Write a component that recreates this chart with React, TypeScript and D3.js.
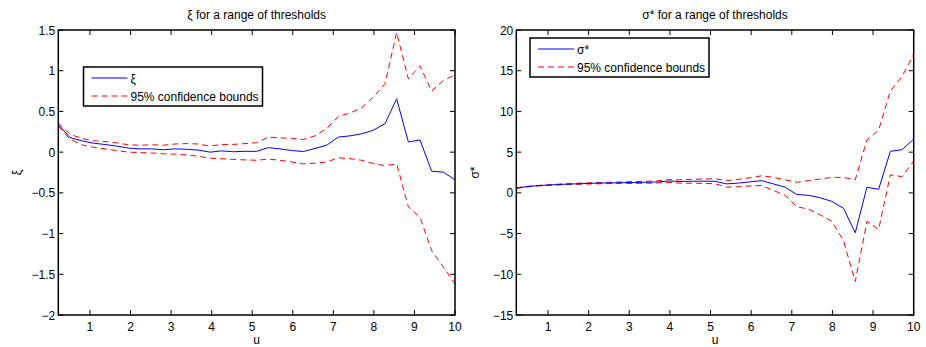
import React from "react";
import * as d3 from "d3";

const U: number[] = d3.range(35).map((i) => 0.22 + (i * (10 - 0.22)) / 34);

const xiEst = [0.34, 0.18, 0.14, 0.11, 0.094, 0.074, 0.05, 0.04, 0.04, 0.03, 0.04, 0.035, 0.025, 0.0, 0.015, 0.005, 0.01, 0.01, 0.055, 0.04, 0.02, 0.008, 0.045, 0.085, 0.185, 0.2, 0.225, 0.27, 0.35, 0.655, 0.125, 0.15, -0.235, -0.245, -0.34];
const xiUpper = [0.36, 0.22, 0.17, 0.14, 0.13, 0.115, 0.09, 0.085, 0.09, 0.085, 0.1, 0.105, 0.1, 0.075, 0.095, 0.095, 0.105, 0.115, 0.185, 0.175, 0.17, 0.155, 0.2, 0.29, 0.44, 0.48, 0.545, 0.675, 0.84, 1.47, 0.9, 1.06, 0.75, 0.88, 0.95];
const xiLower = [0.32, 0.16, 0.09, 0.06, 0.04, 0.02, 0.0, -0.005, -0.01, -0.02, -0.025, -0.035, -0.05, -0.075, -0.08, -0.09, -0.095, -0.1, -0.085, -0.1, -0.12, -0.145, -0.135, -0.12, -0.07, -0.08, -0.1, -0.14, -0.165, -0.145, -0.67, -0.8, -1.21, -1.41, -1.62];

const sigEst = [0.6, 0.78, 0.9, 0.98, 1.05, 1.1, 1.15, 1.2, 1.22, 1.25, 1.27, 1.3, 1.33, 1.45, 1.4, 1.42, 1.43, 1.42, 1.1, 1.2, 1.35, 1.5, 1.1, 0.7, -0.2, -0.3, -0.6, -1.05, -1.9, -4.9, 0.7, 0.44, 5.1, 5.3, 6.6];
const sigUpper = [0.62, 0.8, 0.93, 1.02, 1.1, 1.16, 1.22, 1.27, 1.3, 1.34, 1.38, 1.42, 1.46, 1.62, 1.6, 1.66, 1.7, 1.72, 1.5, 1.65, 1.85, 2.1, 1.9, 1.6, 1.3, 1.5, 1.7, 1.9, 1.9, 1.6, 6.5, 7.7, 12.5, 14.3, 17.0];
const sigLower = [0.55, 0.74, 0.86, 0.94, 1.0, 1.04, 1.08, 1.12, 1.14, 1.16, 1.16, 1.18, 1.2, 1.28, 1.2, 1.18, 1.16, 1.12, 0.7, 0.75, 0.85, 0.9, 0.3, -0.3, -1.7, -2.0, -2.7, -3.5, -5.9, -10.9, -3.5, -4.5, 2.2, 2.0, 3.9];

const xTicks = [1, 2, 3, 4, 5, 6, 7, 8, 9, 10];
const xiTicks = [-2, -1.5, -1, -0.5, 0, 0.5, 1, 1.5];
const sigTicks = [-15, -10, -5, 0, 5, 10, 15, 20];

const FONT = "'Liberation Sans', Arial, Helvetica, sans-serif";

const fmt = (v: number) => String(v).replace("-", "\u2212");

interface PanelProps {
  left: number;
  right: number;
  top: number;
  bottom: number;
  yDomain: [number, number];
  yTicks: number[];
  est: number[];
  upper: number[];
  lower: number[];
  title: string;
  ylabel: string;
  estLabel: string;
  legend: { x: number; y: number; w: number; h: number };
}

function Panel(p: PanelProps) {
  const x = d3.scaleLinear().domain([U[0], 10]).range([p.left, p.right]);
  const y = d3.scaleLinear().domain(p.yDomain).range([p.bottom, p.top]);
  const line = d3
    .line<number>()
    .x((_, i) => x(U[i]))
    .y((d) => y(d));
  const tl = 5;
  const cx = (p.left + p.right) / 2;
  const cy = (p.top + p.bottom) / 2;
  const lg = p.legend;
  return (
    <g>
      <rect x={p.left} y={p.top} width={p.right - p.left} height={p.bottom - p.top} fill="white" />
      <path d={line(p.upper) || ""} fill="none" stroke="#ff0000" strokeWidth={1} strokeDasharray="6,4" />
      <path d={line(p.lower) || ""} fill="none" stroke="#ff0000" strokeWidth={1} strokeDasharray="6,4" />
      <path d={line(p.est) || ""} fill="none" stroke="#0000ff" strokeWidth={1} />
      {xTicks.map((t) => (
        <g key={"x" + t}>
          <line x1={x(t)} x2={x(t)} y1={p.bottom} y2={p.bottom - tl} stroke="black" />
          <line x1={x(t)} x2={x(t)} y1={p.top} y2={p.top + tl} stroke="black" />
          <text x={x(t)} y={p.bottom + 16} textAnchor="middle" fontSize={12} fontFamily={FONT}>
            {fmt(t)}
          </text>
        </g>
      ))}
      {p.yTicks.map((t) => (
        <g key={"y" + t}>
          <line x1={p.left} x2={p.left + tl} y1={y(t)} y2={y(t)} stroke="black" />
          <line x1={p.right} x2={p.right - tl} y1={y(t)} y2={y(t)} stroke="black" />
          <text x={p.left - 3} y={y(t) + 4.5} textAnchor="end" fontSize={12} fontFamily={FONT}>
            {fmt(t)}
          </text>
        </g>
      ))}
      <rect x={p.left} y={p.top} width={p.right - p.left} height={p.bottom - p.top} fill="none" stroke="black" strokeWidth={1.5} />
      <text x={cx} y={19} textAnchor="middle" fontSize={12} fontFamily={FONT}>
        {p.title}
      </text>
      <text x={cx} y={344} textAnchor="middle" fontSize={12} fontFamily={FONT}>
        u
      </text>
      <text transform={`translate(${p.left - 37},${cy}) rotate(-90)`} textAnchor="middle" fontSize={12} fontFamily={FONT}>
        {p.ylabel}
      </text>
      <g>
        <rect x={lg.x} y={lg.y} width={lg.w} height={lg.h} fill="white" stroke="black" strokeWidth={1.5} />
        <line x1={lg.x + 8} x2={lg.x + 44} y1={lg.y + 11} y2={lg.y + 11} stroke="#0000ff" />
        <line x1={lg.x + 8} x2={lg.x + 44} y1={lg.y + 29} y2={lg.y + 29} stroke="#ff0000" strokeDasharray="6,4" />
        <text x={lg.x + 47} y={lg.y + 15.5} fontSize={12} fontFamily={FONT}>
          {p.estLabel}
        </text>
        <text x={lg.x + 47} y={lg.y + 33.5} fontSize={12} fontFamily={FONT}>
          95% confidence bounds
        </text>
      </g>
    </g>
  );
}

export default function App() {
  return (
    <svg width={926} height={347} style={{ position: "absolute", left: 0, top: 0, background: "white" }}>
      <rect width={926} height={347} fill="white" />
      <Panel
        left={58.3}
        right={455}
        top={30}
        bottom={315}
        yDomain={[-2, 1.5]}
        yTicks={xiTicks}
        est={xiEst}
        upper={xiUpper}
        lower={xiLower}
        title="ξ for a range of thresholds"
        ylabel="ξ"
        estLabel="ξ"
        legend={{ x: 83.5, y: 67, w: 179, h: 39 }}
      />
      <Panel
        left={516.3}
        right={913.7}
        top={30}
        bottom={315}
        yDomain={[-15, 20]}
        yTicks={sigTicks}
        est={sigEst}
        upper={sigUpper}
        lower={sigLower}
        title="σ* for a range of thresholds"
        ylabel="σ*"
        estLabel="σ*"
        legend={{ x: 530, y: 38, w: 179, h: 39 }}
      />
    </svg>
  );
}
